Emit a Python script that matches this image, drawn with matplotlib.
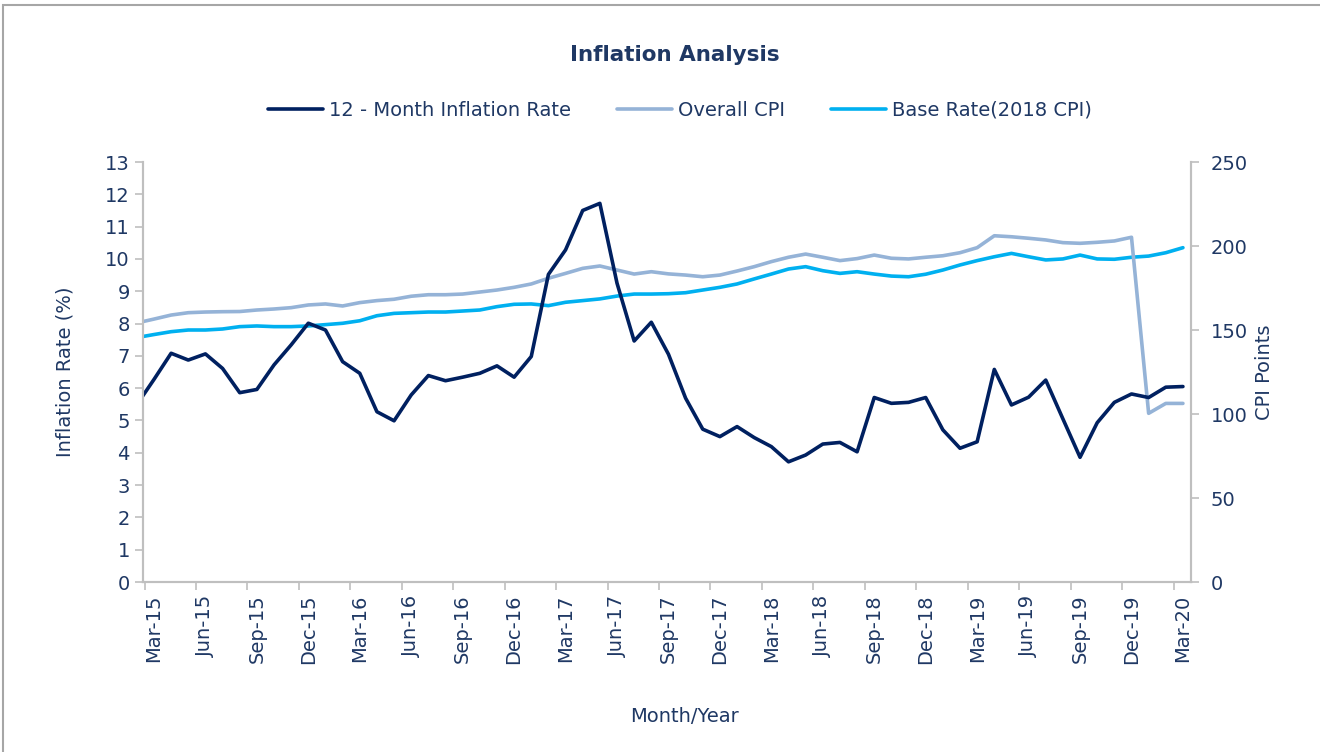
import numpy as np
import matplotlib
matplotlib.use("Agg")
import matplotlib.pyplot as plt
from matplotlib.patches import Rectangle

# monthly series, Feb-15 .. Mar-20 (Feb-15 sits just left of the axis and gets clipped)
month_names = ["Jan", "Feb", "Mar", "Apr", "May", "Jun", "Jul", "Aug", "Sep", "Oct", "Nov", "Dec"]
months = [m + "-" + str(y) for y in range(15, 21) for m in month_names]
months = months[months.index("Feb-15"): months.index("Mar-20") + 1]

inflation = [5.49, 6.27, 7.08, 6.87, 7.06, 6.61, 5.86, 5.96, 6.72, 7.34, 8.01,
             7.80, 6.82, 6.46, 5.27, 4.99, 5.79, 6.39, 6.23, 6.34, 6.46, 6.69,
             6.34, 6.98, 9.52, 10.28, 11.50, 11.72, 9.25, 7.46, 8.04, 7.05,
             5.69, 4.73, 4.50, 4.81, 4.47, 4.19, 3.72, 3.93, 4.27, 4.32,
             4.03, 5.71, 5.53, 5.56, 5.71, 4.71, 4.14, 4.34, 6.58, 5.48,
             5.72, 6.25, 5.05, 3.86, 4.93, 5.56, 5.82, 5.71, 6.03, 6.05]

overall_cpi = [154.2, 156.5, 158.9, 160.3, 160.7, 160.9, 161.0, 161.9, 162.5, 163.3, 164.9,
               165.5, 164.3, 166.3, 167.5, 168.3, 170.1, 171.0, 171.0, 171.4, 172.6, 173.8,
               175.4, 177.4, 180.8, 183.7, 186.7, 188.1, 185.7, 183.3, 184.7, 183.4,
               182.7, 181.7, 182.7, 185.1, 187.7, 190.7, 193.3, 195.2, 193.3, 191.3,
               192.5, 194.6, 192.7, 192.3, 193.3, 194.2, 196.0, 199.0, 206.1, 205.5,
               204.6, 203.6, 202.0, 201.6, 202.2, 203.0, 205.2, 100.4, 106.3, 106.3]

base_cpi = [145.5, 147.3, 149.0, 150.0, 150.0, 150.6, 152.0, 152.4, 152.0, 152.0, 152.4,
            153.2, 154.0, 155.5, 158.5, 159.9, 160.3, 160.7, 160.7, 161.3, 161.9, 163.9,
            165.3, 165.5, 164.5, 166.5, 167.5, 168.5, 170.2, 171.4, 171.4, 171.6,
            172.2, 173.8, 175.4, 177.4, 180.4, 183.3, 186.3, 187.7, 185.3, 183.7,
            184.7, 183.3, 182.1, 181.7, 183.2, 185.7, 188.7, 191.3, 193.6, 195.6,
            193.6, 191.7, 192.3, 194.6, 192.3, 192.1, 193.3, 194.0, 196.0, 199.0]

tick_labels = ["Mar-15", "Jun-15", "Sep-15", "Dec-15", "Mar-16", "Jun-16", "Sep-16",
               "Dec-16", "Mar-17", "Jun-17", "Sep-17", "Dec-17", "Mar-18", "Jun-18",
               "Sep-18", "Dec-18", "Mar-19", "Jun-19", "Sep-19", "Dec-19", "Mar-20"]

navy = "#002060"
light = "#95B3D7"
cyan = "#00B0F0"
grey = "#BFBFBF"
txt = "#1F3864"

plt.rcParams["font.family"] = ["DejaVu Sans"]

x = np.arange(len(months)) - 1  # Mar-15 -> 0

fig = plt.figure(figsize=(13.2, 7.52), dpi=100)
ax = fig.add_axes([143/1320, 1 - 582/752, 1048/1320, 420/752])
ax2 = ax.twinx()
ax.set_zorder(ax2.get_zorder() + 1)
ax.patch.set_visible(False)

ax2.plot(x, base_cpi, color=cyan, lw=2.6, solid_capstyle="round", label="Base Rate(2018 CPI)")
ax2.plot(x, overall_cpi, color=light, lw=2.6, solid_capstyle="round", label="Overall CPI")
ax.plot(x, inflation, color=navy, lw=2.6, solid_capstyle="round", label="12 - Month Inflation Rate")

ax.set_xlim(-0.64, 60.47)
ax.set_ylim(0, 13)
ax2.set_ylim(0, 250)
ax.set_yticks(range(0, 14))
ax2.set_yticks(range(0, 251, 50))

# tick marks sit a little left of the points, labels sit on the points
pos = [months.index(t) - 1 for t in tick_labels]
ax.set_xticks([p - 0.55 for p in pos])
ax.set_xticklabels([])
ax.set_xticks(pos, minor=True)
ax.set_xticklabels(tick_labels, minor=True, rotation=90, fontsize=14, color=txt)
ax.tick_params(axis="x", which="minor", length=0, pad=9)
ax.tick_params(axis="x", which="major", length=6, color=grey, width=1.2)

ax.tick_params(axis="y", labelsize=14, labelcolor=txt, color=grey, length=6, width=1.2)
ax2.tick_params(axis="y", labelsize=14, labelcolor=txt, color=grey, length=6, width=1.2, pad=8)

for a in (ax, ax2):
    a.spines["top"].set_visible(False)
    for s in ("left", "right", "bottom"):
        a.spines[s].set_color(grey)
        a.spines[s].set_linewidth(1.5)

ax.set_ylabel("Inflation Rate (%)", fontsize=14, color=txt, labelpad=22)
ax2.set_ylabel("CPI Points", fontsize=14, color=txt, labelpad=5)
fig.text(685/1320, 1 - 717/752, "Month/Year", fontsize=14, color=txt, ha="center", va="center")
fig.text(675/1320, 1 - 55/752, "Inflation Analysis", fontsize=15.5, fontweight="bold",
         color=txt, ha="center", va="center")

h1, l1 = ax.get_legend_handles_labels()
h2, l2 = ax2.get_legend_handles_labels()
handles = h1 + [h2[1], h2[0]]
labels = l1 + [l2[1], l2[0]]
fig.legend(handles, labels, loc="center", bbox_to_anchor=(680/1320, 1 - 110/752), ncol=3,
           frameon=False, fontsize=14, labelcolor=txt, handlelength=2.8,
           handletextpad=0.3, columnspacing=2.4)

# chart area border (only top and left edges show in the crop)
fig.patches.append(Rectangle((3/1320, -0.05), 1.1, 1 - 5/752 + 0.05, transform=fig.transFigure,
                             fill=False, edgecolor="#A6A6A6", lw=1.5))

fig.savefig("out.png", dpi=100)
